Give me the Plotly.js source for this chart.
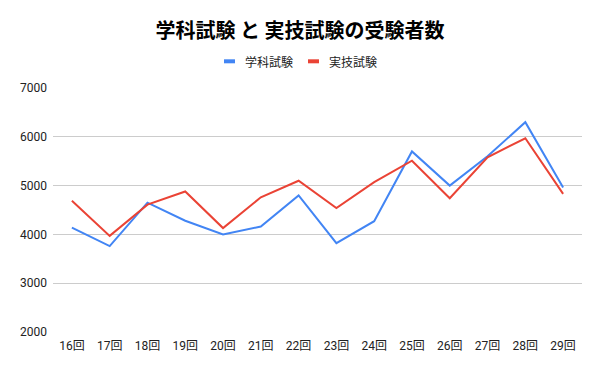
<!DOCTYPE html>
<html>
<head>
<meta charset="utf-8">
<script src="https://cdn.plot.ly/plotly-3.0.1.min.js"></script>
<style>html,body{margin:0;padding:0;background:#fff;}#chart{width:600px;height:371px;}</style>
</head>
<body>
<div id="chart"></div>
<script>
const categories = ["16回","17回","18回","19回","20回","21回","22回","23回","24回","25回","26回","27回","28回","29回"];
const gakka = [4140, 3760, 4650, 4280, 4000, 4160, 4800, 3820, 4270, 5700, 5000, 5600, 6300, 4960];
const jitsugi = [4690, 3970, 4610, 4880, 4130, 4760, 5100, 4540, 5070, 5510, 4740, 5580, 5970, 4830];
const seriesNames = ["学科試験", "実技試験"];
const seriesColors = ["#4285F4", "#EA4335"];
const yTicks = [2000, 3000, 4000, 5000, 6000, 7000];

const font = "Roboto, 'Noto Sans CJK JP', sans-serif";
const cjk = "'Noto Sans CJK JP', sans-serif";
const traces = [
  {x: categories, y: gakka, name: seriesNames[0], type: "scatter", mode: "lines",
   line: {color: seriesColors[0], width: 2}},
  {x: categories, y: jitsugi, name: seriesNames[1], type: "scatter", mode: "lines",
   line: {color: seriesColors[1], width: 2}}
];

// custom legend (short thick swatches as in the reference)
const legendItems = [
  {sx0: 0.3233, sx1: 0.3440, tx: 0.3611},
  {sx0: 0.4820, sx1: 0.5028, tx: 0.5193}
];
const shapes = legendItems.map((it, i) => ({
  type: "rect", xref: "paper", yref: "paper", x0: it.sx0, x1: it.sx1, y0: 1.1012, y1: 1.1176,
  fillcolor: seriesColors[i], line: {width: 0}
}));
const annotations = legendItems.map((it, i) => ({
  xref: "paper", yref: "paper", x: it.tx, y: 1.1094, xanchor: "left", yanchor: "middle",
  text: seriesNames[i], showarrow: false, borderpad: 0,
  font: {family: cjk, size: 12, color: "#222"}
}));

const layout = {
  width: 600, height: 371,
  margin: {l: 53, r: 18, t: 88, b: 39},
  paper_bgcolor: "#fff", plot_bgcolor: "#fff",
  font: {family: font, color: "#222", size: 12},
  title: {text: "<b>学科試験 と 実技試験の受験者数</b>", x: 0.5, xanchor: "center", y: 0.917, yanchor: "middle",
          font: {family: cjk, size: 20, color: "#000"}},
  showlegend: false,
  shapes: shapes,
  annotations: annotations,
  xaxis: {type: "category", range: [-0.5, 13.5], showgrid: false, zeroline: false, showline: false,
          ticks: "", ticklabelstandoff: 5, tickfont: {size: 12, color: "#222"}, fixedrange: true},
  yaxis: {range: [2000, 7000], tickvals: yTicks, ticktext: yTicks.map(String), showgrid: true, gridcolor: "#ccc",
          gridwidth: 1, zeroline: false, showline: false, ticks: "", ticklabelstandoff: 5,
          tickfont: {size: 12, color: "#222"}, fixedrange: true}
};
Plotly.newPlot("chart", traces, layout, {displayModeBar: false, staticPlot: true});
</script>
</body>
</html>
